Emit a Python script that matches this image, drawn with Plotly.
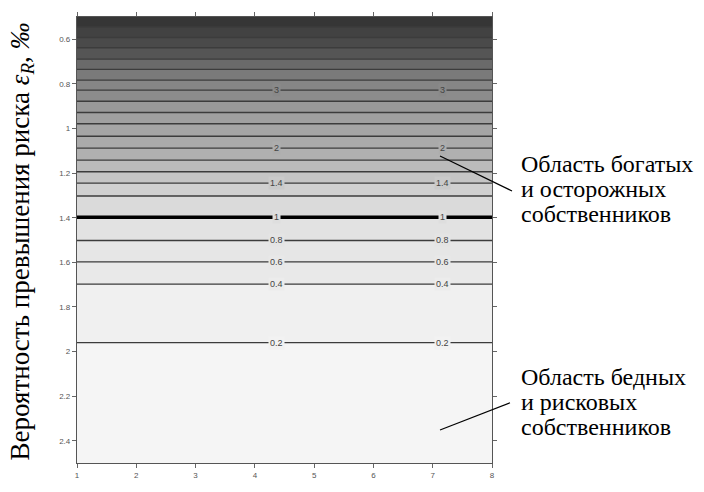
import numpy as np
import plotly.graph_objects as go

# ---- data ----
# exceedance probability (y axis) and contour value along it (value is constant along x)
y_prob = [0.50, 0.545, 0.592, 0.638, 0.689, 0.735, 0.783, 0.828, 0.878, 0.928,
          0.979, 1.035, 1.088, 1.142, 1.194, 1.245, 1.303, 1.398, 1.502, 1.598,
          1.698, 1.960, 2.20, 2.50]
z_profile = [4.38, 4.2, 4.0, 3.8, 3.6, 3.4, 3.2, 3.0, 2.8, 2.6,
             2.4, 2.2, 2.0, 1.8, 1.6, 1.4, 1.2, 1.0, 0.8, 0.6,
             0.4, 0.2, 0.12, 0.05]
x_vals = [1, 2, 3, 4, 5, 6, 7, 8]
x_ticks = [1, 2, 3, 4, 5, 6, 7, 8]
y_ticks = [0.6, 0.8, 1.0, 1.2, 1.4, 1.6, 1.8, 2.0, 2.2, 2.4]
labeled_levels = [3, 2, 1.4, 1, 0.8, 0.6, 0.4, 0.2]
label_x = [4.37, 7.17]
# gray value of each filled band, from below 0.2 up to above 4.2
band_grays = [245, 240, 233, 230, 226, 218, 208, 197, 187, 176, 170,
              165, 160, 153, 140, 134, 122, 106, 85, 74, 66, 54]
rich_lines = ["Область богатых", "и осторожных", "собственников"]
poor_lines = ["Область бедных", "и рисковых", "собственников"]

c_start, c_end, c_size = 0.2, 4.2, 0.2

Z = [[zv for _ in x_vals] for zv in z_profile]

n = len(band_grays)
colorscale = [[k / (n - 1), f"rgb({g},{g},{g})"] for k, g in enumerate(band_grays)]

fig = go.Figure()
fig.add_trace(go.Contour(
    x=x_vals, y=y_prob, z=Z,
    contours=dict(start=c_start, end=c_end, size=c_size, coloring="fill", showlines=True),
    line=dict(color="#3c3c3c", width=1.4),
    colorscale=colorscale, showscale=False, hoverinfo="skip",
))
fig.add_trace(go.Contour(
    x=x_vals, y=y_prob, z=Z,
    contours=dict(start=1.0, end=1.0, size=0.2, coloring="none"),
    line=dict(color="black", width=3.6),
    showscale=False, hoverinfo="skip",
))

# contour labels
zs_inc = z_profile[::-1]
ys_inc = y_prob[::-1]
for lev in labeled_levels:
    yl = float(np.interp(lev, zs_inc, ys_inc))
    k = int(round((lev - c_start) / c_size)) + 1
    g = int(round((band_grays[min(k, n - 1)] + band_grays[k - 1]) / 2))
    for xl in label_x:
        fig.add_annotation(x=xl, y=yl, xref="x", yref="y", text=f"{lev:g}", showarrow=False,
                           font=dict(family="Arial, Liberation Sans", size=9, color="#444"),
                           bgcolor=f"rgb({g},{g},{g})", borderpad=1)

serif = "Liberation Serif, Times New Roman, serif"

def px2paper(px, py):
    return (px - 77) / 415, (473 - py) / 459

# y-axis title
tx, ty = px2paper(22, 245)
fig.add_annotation(xref="paper", yref="paper", x=tx, y=ty, xanchor="center", yanchor="middle",
                   textangle=-90, showarrow=False,
                   text="Вероятность превышения риска <i>ε<sub>R</sub></i>, <i>‰</i>",
                   font=dict(family=serif, size=27, color="black"))

# region annotations (one per line to keep tight leading)
for lines, ys in [(rich_lines, [165, 191, 217]), (poor_lines, [384, 410, 436])]:
    for t, py in zip(lines, ys):
        ax_, ay_ = px2paper(519, py)
        fig.add_annotation(xref="paper", yref="paper", x=ax_, y=ay_, xanchor="left", yanchor="middle",
                           showarrow=False, text=t,
                           font=dict(family=serif, size=24, color="black"))

for (a, b) in [((440, 157), (512, 193)), ((510, 411), (440, 439))]:
    x0, y0 = px2paper(*a)
    x1, y1 = px2paper(*b)
    fig.add_shape(type="line", xref="paper", yref="paper", x0=x0, y0=y0, x1=x1, y1=y1,
                  line=dict(color="black", width=1.2))

axis_common = dict(showline=True, linecolor="#555", linewidth=1.2, mirror="ticks",
                   ticks="outside", ticklen=4, tickcolor="#666", tickwidth=1,
                   showgrid=False, zeroline=False,
                   tickfont=dict(family="Arial, Liberation Sans", size=8, color="#555"))

fig.update_layout(
    width=704, height=492,
    margin=dict(l=77, r=212, t=14, b=19),
    paper_bgcolor="white", plot_bgcolor="white",
    showlegend=False,
    xaxis=dict(range=[1, 8], tickvals=x_ticks, **axis_common),
    yaxis=dict(range=[2.5, 0.5], tickvals=y_ticks, ticktext=[f"{v:g}" for v in y_ticks], **axis_common),
)

fig.write_html("out.html", config={"displayModeBar": False},
               post_script="document.body.style.margin='0';document.body.style.overflow='hidden';")
